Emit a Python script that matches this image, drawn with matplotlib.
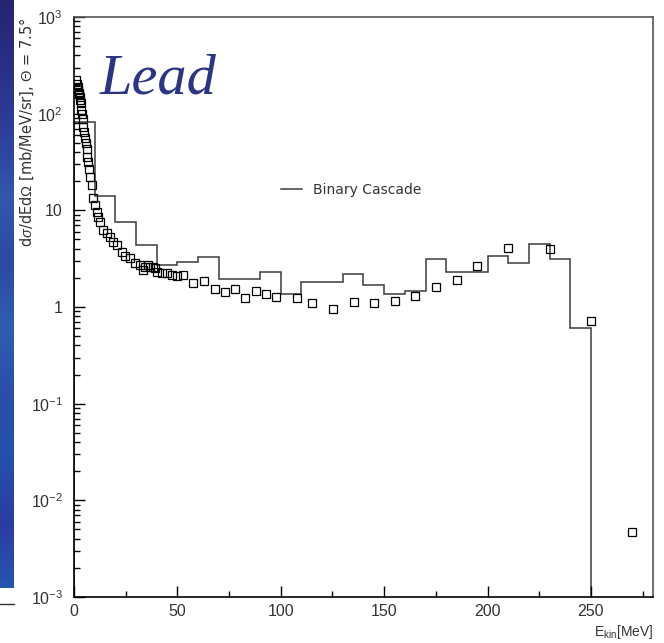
import numpy as np
import matplotlib
matplotlib.use("Agg")
import matplotlib.pyplot as plt
from matplotlib.ticker import FixedLocator, NullFormatter
from matplotlib.colors import LinearSegmentedColormap

plt.rcParams['font.family'] = ['Liberation Sans', 'DejaVu Sans']
plt.rcParams['mathtext.fontset'] = 'custom'
plt.rcParams['mathtext.rm'] = 'Liberation Sans'
plt.rcParams['mathtext.it'] = 'Liberation Sans:italic'

# ---- data ----
bin_edges = np.arange(0, 260, 10)
binary_cascade = [82.5, 14.1, 7.6, 4.38, 2.72, 2.94, 3.31, 1.95, 1.95, 2.32,
                  1.36, 1.83, 1.83, 2.19, 1.69, 1.36, 1.47, 3.16, 2.32, 2.32,
                  3.39, 2.83, 4.48, 3.16, 0.61]

data_energy = [1.2, 1.5, 1.8, 2.0, 2.2, 2.5, 2.8, 3.0, 3.3, 3.5, 3.7, 4.2, 4.5,
               5.0, 5.5, 5.8, 6.1, 6.5, 6.9, 7.4, 7.9, 8.6, 9.3, 10.1, 10.9,
               11.7, 12.5, 14.1, 15.8, 17.4, 19.0, 20.6, 23.0, 24.6, 27.0,
               29.5, 31.9, 33.5, 34.3, 35.9, 36.7, 38.3, 39.1, 40.0, 42.4,
               44.8, 47.2, 49.6, 52.8, 57.6, 62.8, 68.0, 72.9, 77.8, 82.8,
               87.8, 92.8, 97.9, 107.6, 115.3, 125.3, 135.3, 145.0, 155.0,
               165.0, 175.0, 185.0, 195.0, 210.0, 230.0, 250.0, 270.0]
data_xs = [225, 205, 190, 175, 165, 160, 150, 140, 130, 109, 99, 89, 73,
           65, 56, 50, 42.7, 36, 31.8, 26.7, 21.9, 18.3, 13.3, 11.3, 9.7,
           8.6, 7.6, 6.26, 5.78, 5.33, 4.73, 4.38, 3.73, 3.37, 3.19,
           2.83, 2.72, 2.41, 2.61, 2.72, 2.57, 2.61, 2.51, 2.32, 2.23,
           2.23, 2.14, 2.09, 2.14, 1.78, 1.87, 1.52, 1.44, 1.52, 1.25,
           1.47, 1.35, 1.26, 1.23, 1.11, 0.955, 1.13, 1.11, 1.16,
           1.31, 1.60, 1.89, 2.65, 4.10, 3.98, 0.72, 0.0047]

y_ticks = [1e-3, 1e-2, 1e-1, 1, 10, 1e2, 1e3]
y_tick_labels = [r'$10^{-3}$', r'$10^{-2}$', r'$10^{-1}$', '1', '10',
                 r'$10^{2}$', r'$10^{3}$']
x_ticks = [0, 50, 100, 150, 200, 250]

W, H = 664, 643
fig = plt.figure(figsize=(W / 100, H / 100), dpi=100)
fig.patch.set_facecolor('white')

# ---- blue slide strip on the left ----
bg = fig.add_axes([0, 1 - 588 / H, 14 / W, 588 / H])
cmap = LinearSegmentedColormap.from_list(
    'slide', ['#262474', '#2a2f86', '#2c3f9c', '#3257ad', '#2b4aa6',
              '#2f5db3', '#2a4fab', '#2450ad', '#2b3ca2', '#2555b0'])
grad = np.linspace(0, 1, 256).reshape(-1, 1)
bg.imshow(grad, aspect='auto', cmap=cmap, extent=[0, 1, 1, 0])
bg.set_axis_off()
fig.add_artist(plt.Line2D([0, 14 / W], [1 - 604 / H, 1 - 604 / H],
                          color='#333333', lw=1.0, transform=fig.transFigure))

# ---- main axes ----
ax = fig.add_axes([74 / W, 1 - 597 / H, (653 - 74) / W, (597 - 17) / H])
ax.set_yscale('log')
ax.set_xlim(0, 280)
ax.set_ylim(1e-3, 1e3)

ax.stairs(binary_cascade, bin_edges, baseline=1e-3, color='#3a3a3a', lw=1.1,
          label='Binary Cascade')
ax.plot(data_energy, data_xs, linestyle='none', marker='s', markersize=6.3,
        markerfacecolor='none', markeredgecolor='black', markeredgewidth=0.9)

ax.yaxis.set_major_locator(FixedLocator(y_ticks))
ax.set_yticklabels(y_tick_labels)
minor = [m * 10.0 ** e for e in range(-3, 3) for m in range(2, 10)]
ax.yaxis.set_minor_locator(FixedLocator(minor))
ax.yaxis.set_minor_formatter(NullFormatter())
ax.xaxis.set_major_locator(FixedLocator(x_ticks))
ax.xaxis.set_minor_locator(FixedLocator([25, 75, 125, 175, 225, 275]))

ax.tick_params(axis='both', which='both', direction='in', top=False, right=False,
               colors='black', labelcolor='#333333', labelsize=11.5)
ax.tick_params(axis='both', which='major', length=8, width=1.0)
ax.tick_params(axis='both', which='minor', length=4, width=1.0)
ax.tick_params(axis='y', which='major', pad=8)
ax.tick_params(axis='x', which='major', pad=5)

for s in ['left', 'bottom']:
    ax.spines[s].set_color('black')
    ax.spines[s].set_linewidth(1.2)
for s in ['top', 'right']:
    ax.spines[s].set_color('#555555')
    ax.spines[s].set_linewidth(1.2)

# ---- texts ----
fig.text(27 / W, 1 - 17 / H, r'd$\sigma$/dEd$\Omega$ [mb/MeV/sr], $\Theta$ = 7.5°',
         rotation=90, ha='center', va='top', fontsize=10.5, color='#333333',
         family=['DejaVu Sans'])
fig.text(653 / W, 1 - 632 / H, r'E$_{\rm kin}$[MeV]', ha='right', va='center',
         fontsize=10, color='#333333')
fig.text(100 / W, 1 - 93 / H, 'Lead', ha='left', va='baseline', fontsize=42,
         style='italic', color='#2c3485', family=['Liberation Serif'])

leg = ax.legend(loc='center left', bbox_to_anchor=(281 / W, 1 - 190 / H),
                bbox_transform=fig.transFigure, frameon=False, borderpad=0,
                borderaxespad=0, handlelength=1.5, handletextpad=0.8,
                prop={'family': 'DejaVu Sans', 'size': 10})
for t in leg.get_texts():
    t.set_color('#333333')

fig.savefig('out.png', dpi=100)
